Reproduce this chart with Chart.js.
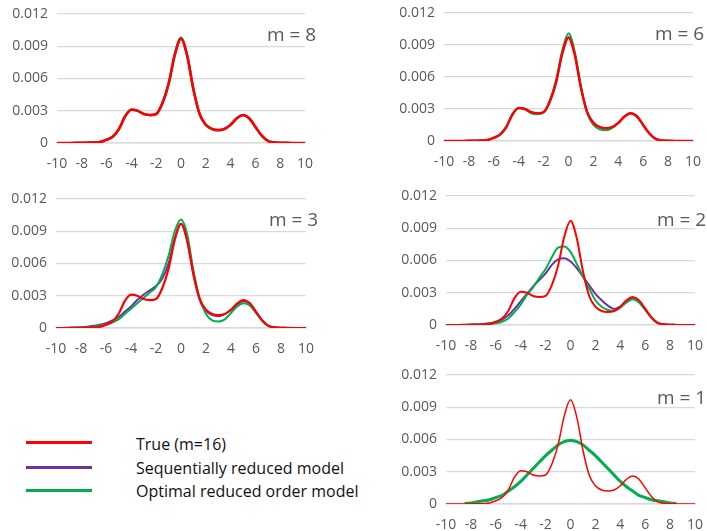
<!DOCTYPE html>
<html>
<head>
<meta charset="utf-8">
<script src="https://cdn.jsdelivr.net/npm/chart.js@4"></script>
<style>
  body { margin: 0; background: #fff; width: 707px; height: 531px; position: relative; overflow: hidden; font-family: "Open Sans", sans-serif; }
  .panel { position: absolute; }
  .mlabel { position: absolute; font-size: 19px; line-height: 20px; color: #595959; white-space: nowrap; }
  .legline { position: absolute; left: 26px; width: 66px; height: 3px; }
  .legtext { position: absolute; left: 136px; font-size: 16px; line-height: 18px; color: #111; white-space: nowrap; }
</style>
</head>
<body>
<div id="root"></div>
<div class="legline" style="top:441px;background:#ff0000"></div>
<div class="legline" style="top:466px;background:#7030a0"></div>
<div class="legline" style="top:489px;background:#00b050"></div>
<div class="legtext" style="top:435px">True (m=16)</div>
<div class="legtext" style="top:459px">Sequentially reduced model</div>
<div class="legtext" style="top:482px">Optimal reduced order model</div>
<script>
// x positions of the density samples (-10 .. 10 every 0.5)
const xValues = [-10, -9.5, -9, -8.5, -8, -7.5, -7, -6.5, -6, -5.5, -5, -4.5, -4, -3.5, -3, -2.5, -2, -1.5, -1, -0.5,
  0, 0.5, 1, 1.5, 2, 2.5, 3, 3.5, 4, 4.5, 5, 5.5, 6, 6.5, 7, 7.5, 8, 8.5, 9, 9.5, 10];

const xTicks = [-10, -8, -6, -4, -2, 0, 2, 4, 6, 8, 10];
const yTicks = [0, 0.003, 0.006, 0.009, 0.012];

// True density (m=16), same in every panel
const trueDensity = [0, 0, 0, 0.00001, 0.00002, 0.00003, 0.00005, 0.0001, 0.0003, 0.0006, 0.0013, 0.0025, 0.0031, 0.0030, 0.0027, 0.0026, 0.0027, 0.0037, 0.0055, 0.0082,
  0.0097, 0.0081, 0.0050, 0.0027, 0.0017, 0.0013, 0.0012, 0.0013, 0.0017, 0.0023, 0.0026, 0.0023, 0.0015, 0.0007, 0.0002, 0.00006, 0.00002, 0.00001, 0, 0, 0];

// m = 8
const seq8 = [0, 0, 0, 0.00001, 0.00002, 0.00003, 0.00005, 0.0001, 0.0003, 0.0006, 0.0013, 0.0025, 0.0031, 0.0030, 0.0027, 0.0026, 0.0027, 0.0037, 0.0055, 0.0082,
  0.0097, 0.0081, 0.0050, 0.0027, 0.0017, 0.0013, 0.0012, 0.0013, 0.0017, 0.0023, 0.0026, 0.0023, 0.0015, 0.0007, 0.0002, 0.00006, 0.00002, 0.00001, 0, 0, 0];
const opt8 = [0, 0, 0, 0.00001, 0.00002, 0.00003, 0.00005, 0.0001, 0.0003, 0.0006, 0.0013, 0.0025, 0.0031, 0.0030, 0.0027, 0.0026, 0.0027, 0.0037, 0.0055, 0.0083,
  0.0098, 0.0082, 0.0050, 0.0027, 0.0017, 0.0013, 0.0012, 0.0013, 0.0017, 0.0023, 0.0026, 0.0023, 0.0015, 0.0007, 0.0002, 0.00006, 0.00002, 0.00001, 0, 0, 0];

// m = 6
const seq6 = [0, 0, 0, 0.00001, 0.00002, 0.00003, 0.00005, 0.0001, 0.0003, 0.0006, 0.0013, 0.0025, 0.0031, 0.0030, 0.0027, 0.0026, 0.0027, 0.0037, 0.0055, 0.0082,
  0.0097, 0.0081, 0.0050, 0.0027, 0.0017, 0.0013, 0.0012, 0.0013, 0.0017, 0.0023, 0.0026, 0.0023, 0.0015, 0.0007, 0.0002, 0.00006, 0.00002, 0.00001, 0, 0, 0];
const opt6 = [0, 0, 0, 0.00001, 0.00002, 0.00003, 0.00005, 0.0001, 0.0003, 0.0006, 0.0013, 0.0025, 0.0031, 0.0030, 0.0026, 0.0025, 0.0027, 0.0038, 0.0057, 0.0085,
  0.0101, 0.0084, 0.0051, 0.0026, 0.0015, 0.0011, 0.0010, 0.0012, 0.0017, 0.0023, 0.0026, 0.0023, 0.0015, 0.0007, 0.0002, 0.00006, 0.00002, 0.00001, 0, 0, 0];

// m = 3
const seq3 = [0, 0.00001, 0.00002, 0.00004, 0.00007, 0.00012, 0.0002, 0.0003, 0.00045, 0.0007, 0.0010, 0.0015, 0.0020, 0.0026, 0.0031, 0.0035, 0.0039, 0.0046, 0.0060, 0.0083,
  0.0097, 0.0081, 0.0049, 0.0026, 0.0016, 0.0012, 0.0011, 0.0013, 0.0017, 0.0022, 0.0025, 0.0023, 0.0015, 0.0007, 0.0002, 0.00006, 0.00002, 0.00001, 0, 0, 0];
const opt3 = [0, 0, 0.00001, 0.00002, 0.00004, 0.00008, 0.00014, 0.00022, 0.0003, 0.0005, 0.0008, 0.0013, 0.0018, 0.0023, 0.0028, 0.0033, 0.0038, 0.0050, 0.0067, 0.0090,
  0.0101, 0.0087, 0.0053, 0.0027, 0.0013, 0.0007, 0.0006, 0.0008, 0.0014, 0.0020, 0.0023, 0.0021, 0.0014, 0.0007, 0.0002, 0.00006, 0.00002, 0.00001, 0, 0, 0];

// m = 2
const seq2 = [0, 0, 0.00001, 0.00002, 0.00004, 0.00007, 0.0001, 0.00016, 0.00025, 0.0005, 0.0009, 0.0015, 0.0022, 0.0029, 0.0036, 0.0042, 0.0048, 0.0056, 0.0061, 0.0062,
  0.0059, 0.0053, 0.0045, 0.0037, 0.0029, 0.0023, 0.0018, 0.0015, 0.0017, 0.0022, 0.0025, 0.0022, 0.0015, 0.0007, 0.0002, 0.00006, 0.00002, 0.00001, 0, 0, 0];
const opt2 = [0, 0, 0, 0.00001, 0.00002, 0.00003, 0.00005, 0.0001, 0.00015, 0.0003, 0.0006, 0.0012, 0.0019, 0.0028, 0.0035, 0.0044, 0.0052, 0.0063, 0.0072, 0.0073,
  0.0068, 0.0057, 0.0045, 0.0034, 0.0023, 0.0017, 0.0014, 0.0013, 0.0016, 0.0021, 0.0024, 0.0021, 0.0014, 0.0007, 0.0002, 0.00006, 0.00002, 0.00001, 0, 0, 0];

// m = 1 (lines only drawn from -8.5 to 8.5)
const seq1 = [null, null, null, 0.00005, 0.0001, 0.0002, 0.0003, 0.0004, 0.0006, 0.0008, 0.0012, 0.0016, 0.0021, 0.0027, 0.0033, 0.0039, 0.0045, 0.0050, 0.0055, 0.0058,
  0.0059, 0.0058, 0.0055, 0.0050, 0.0045, 0.0039, 0.0033, 0.0027, 0.0021, 0.0016, 0.0012, 0.0008, 0.0006, 0.0004, 0.0003, 0.0002, 0.0001, 0.00005, null, null, null];
const opt1 = [null, null, null, 0.00005, 0.0001, 0.0002, 0.0003, 0.0004, 0.0006, 0.0008, 0.0012, 0.0016, 0.0021, 0.0027, 0.0033, 0.0039, 0.0045, 0.0050, 0.0055, 0.0058,
  0.0059, 0.0058, 0.0055, 0.0050, 0.0045, 0.0039, 0.0033, 0.0027, 0.0021, 0.0016, 0.0012, 0.0008, 0.0006, 0.0004, 0.0003, 0.0002, 0.0001, 0.00005, null, null, null];

const RED = '#ff0000';
const PURPLE = '#7030a0';
const GREEN = '#00b050';

// Plot area of each panel in page pixels: left, top, right, bottom
const panels = [
  { label: 'm = 8', rect: [57, 14, 305, 143], seq: seq8, opt: opt8, widths: [2.6, 2.2, 2.2], labelPos: [267, 24] },
  { label: 'm = 6', rect: [444, 13, 693, 141], seq: seq6, opt: opt6, widths: [2.4, 2, 2], labelPos: [655, 23] },
  { label: 'm = 3', rect: [56, 199, 306, 328], seq: seq3, opt: opt3, widths: [2.2, 2, 2], labelPos: [269, 209] },
  { label: 'm = 2', rect: [446, 196, 695, 325], seq: seq2, opt: opt2, widths: [2, 2, 2], labelPos: [657, 209] },
  { label: 'm = 1', rect: [446, 375, 695, 504], seq: seq1, opt: opt1, widths: [1.5, 2, 3], labelPos: [657, 387] }
];

const Y_AXIS_W = 57;
const X_AXIS_H = 34;
const PAD_TOP = 14;
const PAD_RIGHT = 12;

function toPoints(values) {
  return xValues.map((x, i) => ({ x: x, y: values[i] }));
}

// keep the plot area exactly where it should be: no extra room for edge labels
function noEdgePadding(s) {
  s.paddingLeft = 0;
  s.paddingRight = 0;
  s.paddingTop = 0;
  s.paddingBottom = 0;
}

function makePanel(p) {
  const [l, t, r, b] = p.rect;
  const wrap = document.createElement('div');
  wrap.className = 'panel';
  wrap.style.left = (l - Y_AXIS_W) + 'px';
  wrap.style.top = (t - PAD_TOP) + 'px';
  const canvas = document.createElement('canvas');
  canvas.width = (r - l) + Y_AXIS_W + PAD_RIGHT;
  canvas.height = (b - t) + PAD_TOP + X_AXIS_H;
  wrap.appendChild(canvas);
  document.getElementById('root').appendChild(wrap);

  // "m = N" label in the top right corner
  const lbl = document.createElement('div');
  lbl.className = 'mlabel';
  lbl.textContent = p.label;
  lbl.style.left = p.labelPos[0] + 'px';
  lbl.style.top = p.labelPos[1] + 'px';
  document.body.appendChild(lbl);

  const line = (label, values, color, width) => ({
    label: label,
    data: toPoints(values),
    borderColor: color,
    borderWidth: width,
    pointRadius: 0,
    fill: false,
    cubicInterpolationMode: 'monotone',
    spanGaps: false
  });

  new Chart(canvas.getContext('2d'), {
    type: 'line',
    data: {
      // first dataset is drawn on top
      datasets: [
        line('True (m=16)', trueDensity, RED, p.widths[0]),
        line('Optimal reduced order model', p.opt, GREEN, p.widths[2]),
        line('Sequentially reduced model', p.seq, PURPLE, p.widths[1])
      ]
    },
    options: {
      responsive: false,
      animation: false,
      layout: { padding: { top: PAD_TOP, right: PAD_RIGHT, left: 0, bottom: 0 } },
      plugins: { legend: { display: false }, tooltip: { enabled: false } },
      scales: {
        x: {
          type: 'linear',
          min: -10,
          max: 10,
          afterFit: (s) => { s.height = X_AXIS_H; noEdgePadding(s); },
          afterBuildTicks: (s) => { s.ticks = xTicks.map(v => ({ value: v })); },
          grid: { display: false, drawTicks: false },
          border: { display: true, color: '#d9d9d9', width: 1.5 },
          ticks: {
            padding: 13,
            color: '#595959',
            font: { family: 'Open Sans', size: 14 },
            maxRotation: 0,
            callback: (v) => String(v)
          }
        },
        y: {
          min: 0,
          max: 0.012,
          afterFit: (s) => { s.width = Y_AXIS_W; noEdgePadding(s); },
          afterBuildTicks: (s) => { s.ticks = yTicks.map(v => ({ value: v })); },
          grid: { color: '#d9d9d9', lineWidth: 1.2, drawTicks: false },
          border: { display: false },
          ticks: {
            padding: 9,
            color: '#595959',
            font: { family: 'Open Sans', size: 14 },
            callback: (v) => v === 0 ? '0' : v.toFixed(3)
          }
        }
      }
    }
  });
}

panels.forEach(makePanel);
</script>
</body>
</html>
